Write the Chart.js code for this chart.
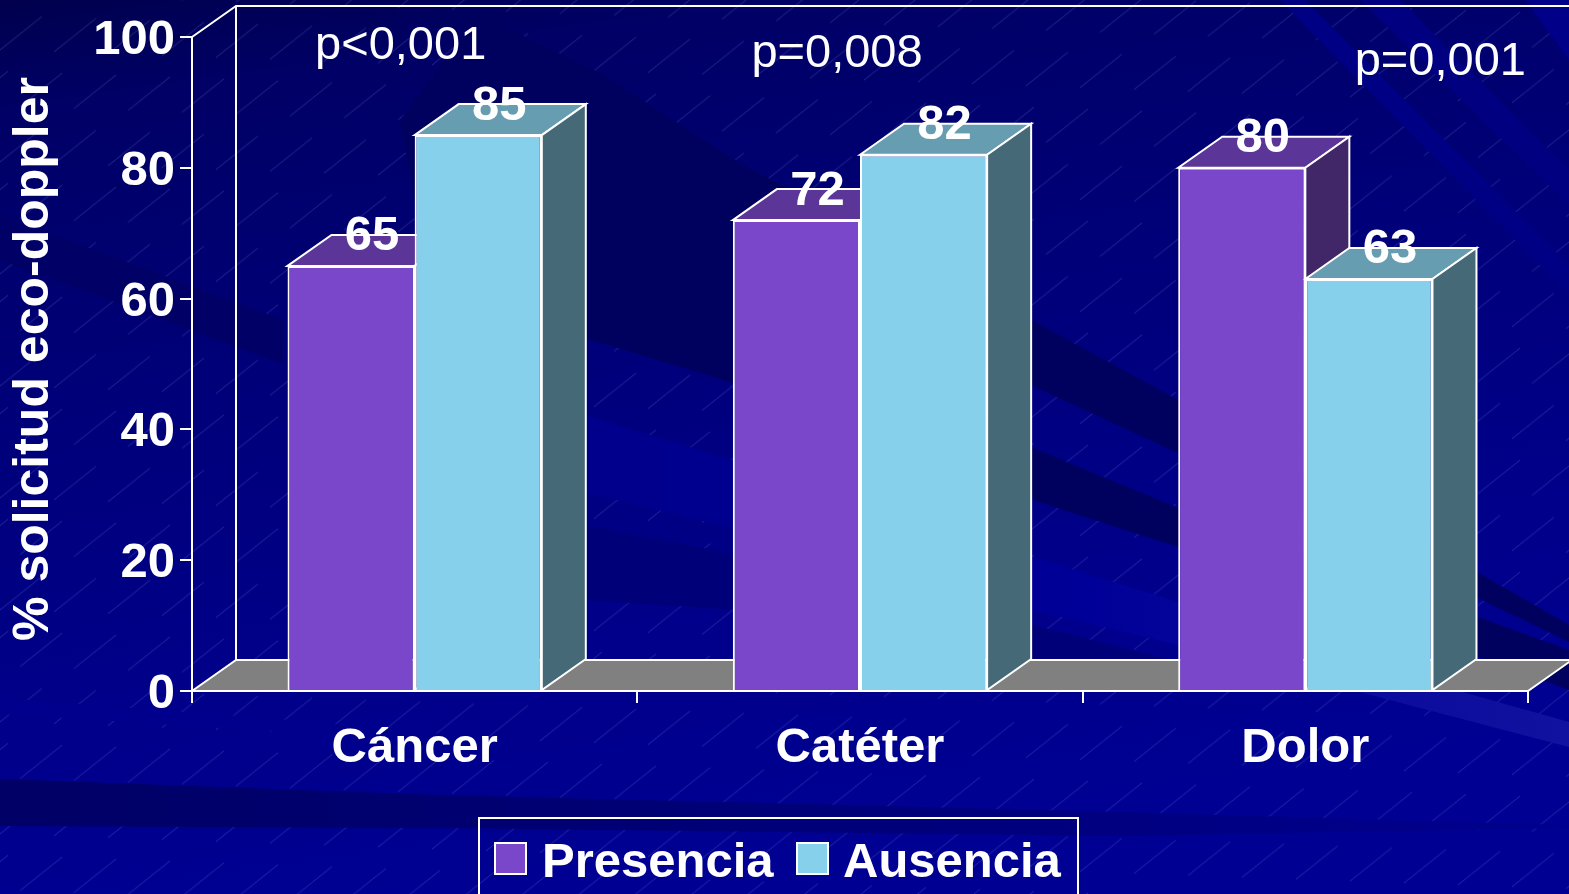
<!DOCTYPE html>
<html lang="es">
<head>
<meta charset="UTF-8" />
<title>Solicitud eco-doppler</title>
<script src="https://cdn.jsdelivr.net/npm/chart.js"></script>
<style>
  html, body { margin: 0; padding: 0; background: #000090; overflow: hidden; }
  .slide { position: relative; width: 1569px; height: 894px; overflow: hidden; }
  .slide svg, .slide canvas { position: absolute; left: 0; top: 0; }
  .leyenda {
    position: absolute; left: 478px; top: 817px; width: 597px; height: 100px;
    border: 2px solid #fff; box-sizing: content-box;
    font: bold 49px "Liberation Sans", Arial, sans-serif; color: #fff;
  }
  .leyenda span { position: absolute; top: 15px; line-height: 52px; }
  .leyenda i { position: absolute; top: 23px; width: 29px; height: 29px; border: 2px solid #fff; }
</style>
</head>
<body>
<div class="slide">
  <svg width="1569" height="894">
    <defs>
      <linearGradient id="fondo" x1="0" y1="0" x2="0.25" y2="1">
        <stop offset="0" stop-color="#00004e" />
        <stop offset="0.12" stop-color="#000066" />
        <stop offset="0.45" stop-color="#00007a" />
        <stop offset="0.75" stop-color="#00008a" />
        <stop offset="1" stop-color="#000092" />
      </linearGradient>
      <linearGradient id="claro" gradientUnits="userSpaceOnUse" x1="585" y1="0" x2="1569" y2="0">
        <stop offset="0" stop-color="#00008c" />
        <stop offset="0.5" stop-color="#000098" />
        <stop offset="1" stop-color="#1212a0" />
      </linearGradient>
      <linearGradient id="franja" gradientUnits="userSpaceOnUse" x1="0" y1="0" x2="1569" y2="0">
        <stop offset="0" stop-color="#000066" />
        <stop offset="0.6" stop-color="#00007c" />
        <stop offset="1" stop-color="#00008e" />
      </linearGradient>
      <pattern id="rayas" width="54" height="112" patternUnits="userSpaceOnUse" patternTransform="skewY(2)">
        <line x1="0" y1="50" x2="42" y2="15" stroke="#8490e6" stroke-width="0.9" stroke-opacity="0.3" />
        <line x1="20" y1="106" x2="62" y2="71" stroke="#8490e6" stroke-width="0.9" stroke-opacity="0.3" />
        <line x1="-34" y1="106" x2="8" y2="71" stroke="#8490e6" stroke-width="0.9" stroke-opacity="0.3" />
      </pattern>
    </defs>
    <rect width="1569" height="894" fill="url(#fondo)" />
    <rect width="1569" height="894" fill="url(#rayas)" />
    <!-- franjas, tapan las rayas -->
    <polygon points="480,15 600,73 740,163 1033,321 1178,400 1569,625 1569,642 1178,453 1033,386 850,318 1033,448 1178,508 1569,650 1569,690 1178,547 1033,500 740,385 585,338 420,230 400,120" fill="#00005e" />
    <polygon points="0,215 283,320 283,364 0,260" fill="#000066" />
    <polygon points="585,525 740,555 1033,625 1178,662 1178,680 1033,660 740,610 585,600" fill="#000078" />
    <polygon points="585,415 732,460 1033,557 1178,602 1466,693 1569,722 1569,747 1363,693 1178,645 1033,610 732,528 585,492" fill="url(#claro)" />
    <polygon points="1280,0 1305,0 1569,265 1569,295" fill="#000084" />
    <polygon points="1360,0 1400,0 1569,170 1569,205" fill="#000080" />
    <polygon points="1525,0 1569,0 1569,60" fill="#000088" />
    <polygon points="0,698 290,720 560,745 290,732 0,714" fill="#00008c" />
    <polygon points="0,779 440,795 1120,812 1569,825 1569,828 1120,836 440,828 0,826" fill="url(#franja)" />
  </svg>
  <canvas id="grafico" width="1569" height="894"></canvas>
  <div class="leyenda" id="leyenda"></div>
</div>

<script>
const categorias = ['Cáncer', 'Catéter', 'Dolor'];
const presencia = [65, 72, 80];
const ausencia = [85, 82, 63];
const nombresSeries = ['Presencia', 'Ausencia'];
const valoresP = ['p<0,001', 'p=0,008', 'p=0,001'];
const marcasY = [0, 20, 40, 60, 80, 100];
const tituloY = '% solicitud eco-doppler';

const colorFrente = ['#7a47cb', '#87d0ec'];
const colorTapa = ['#5c3599', '#669db1'];
const colorLado = ['#412768', '#456977'];

// fondo del cubo: desplazamiento de la profundidad
const profX = 44;
const profY = 31;
const fuente = '"Liberation Sans", Arial, sans-serif';

function cara(ctx, puntos, relleno) {
    ctx.beginPath();
    ctx.moveTo(puntos[0][0], puntos[0][1]);
    for (let i = 1; i < puntos.length; i++) ctx.lineTo(puntos[i][0], puntos[i][1]);
    ctx.closePath();
    ctx.fillStyle = relleno;
    ctx.fill();
    ctx.stroke();
}

const cubo3d = {
    id: 'cubo3d',
    beforeDatasetsDraw(chart) {
        const ctx = chart.ctx;
        const area = chart.chartArea;
        const base = chart.scales.y.getPixelForValue(0);
        const tope = chart.scales.y.getPixelForValue(100);
        ctx.save();
        ctx.strokeStyle = '#fff';
        ctx.lineWidth = 2;

        // paredes y suelo
        ctx.beginPath();
        ctx.moveTo(area.left, tope);
        ctx.lineTo(area.left + profX, tope - profY);
        ctx.lineTo(area.right + profX, tope - profY);
        ctx.moveTo(area.left + profX, tope - profY);
        ctx.lineTo(area.left + profX, base - profY);
        ctx.stroke();
        cara(ctx, [[area.left, base], [area.left + profX, base - profY],
            [area.right + profX, base - profY], [area.right, base]], '#808080');

        // tapa y lateral de cada barra, la frontal la pinta Chart.js
        chart.data.datasets.forEach(function (ds, d) {
            chart.getDatasetMeta(d).data.forEach(function (barra) {
                const izq = barra.x - barra.width / 2;
                const der = barra.x + barra.width / 2;
                cara(ctx, [[izq, barra.y], [izq + profX, barra.y - profY],
                    [der + profX, barra.y - profY], [der, barra.y]], colorTapa[d]);
                cara(ctx, [[der, barra.y], [der + profX, barra.y - profY],
                    [der + profX, barra.base - profY], [der, barra.base]], colorLado[d]);
            });
        });
        ctx.restore();
    },
    afterDatasetsDraw(chart) {
        const ctx = chart.ctx;
        ctx.save();
        ctx.fillStyle = '#fff';
        ctx.textAlign = 'center';
        ctx.textBaseline = 'middle';

        // valor encima de cada barra
        ctx.font = 'bold 49px ' + fuente;
        chart.data.datasets.forEach(function (ds, d) {
            chart.getDatasetMeta(d).data.forEach(function (barra, i) {
                ctx.fillText(ds.data[i], barra.x + 21, barra.y - 29);
            });
        });

        // p de cada grupo
        ctx.font = '47px ' + fuente;
        const dx = [-14, -23, 135];
        const py = [46, 54, 62];
        valoresP.forEach(function (txt, i) {
            ctx.fillText(txt, chart.scales.x.getPixelForValue(i) + dx[i], py[i]);
        });

        // titulo del eje y, girado
        ctx.font = 'bold 50px ' + fuente;
        ctx.translate(34, 359);
        ctx.rotate(-Math.PI / 2);
        ctx.fillText(tituloY, 0, 0);
        ctx.restore();
    }
};

new Chart(document.getElementById('grafico'), {
    type: 'bar',
    data: {
        labels: categorias,
        datasets: [
            { label: nombresSeries[0], data: presencia, backgroundColor: colorFrente[0], borderColor: '#fff', borderWidth: 2 },
            { label: nombresSeries[1], data: ausencia, backgroundColor: colorFrente[1], borderColor: '#fff', borderWidth: 2 }
        ]
    },
    options: {
        responsive: false,
        animation: false,
        devicePixelRatio: 1,
        layout: { padding: { top: 37, right: 41, bottom: 0, left: 0 } },
        datasets: { bar: { categoryPercentage: 0.571, barPercentage: 1 } },
        plugins: { legend: { display: false }, tooltip: { enabled: false } },
        scales: {
            x: {
                afterFit(scale) { scale.height = 203; },
                border: { color: '#fff', width: 2 },
                grid: { drawOnChartArea: false, color: '#fff', lineWidth: 2, tickLength: 12 },
                ticks: { color: '#fff', padding: 16, font: { family: fuente, size: 49, weight: 'bold' }, maxRotation: 0 }
            },
            y: {
                min: 0,
                max: 100,
                afterFit(scale) { scale.width = 192; },
                afterBuildTicks(scale) { scale.ticks = marcasY.map(v => ({ value: v })); },
                border: { color: '#fff', width: 2 },
                grid: { drawOnChartArea: false, color: '#fff', lineWidth: 2, tickLength: 12 },
                ticks: { color: '#fff', padding: 5, labelOffset: 3.5, font: { family: fuente, size: 49, weight: 'bold' } }
            }
        }
    },
    plugins: [cubo3d]
});

// leyenda en html, sale de los mismos nombres y colores
const leyenda = document.getElementById('leyenda');
const posCuadro = [14, 316];
const posTexto = [62, 363];
nombresSeries.forEach(function (nombre, i) {
    const cuadro = document.createElement('i');
    cuadro.style.left = posCuadro[i] + 'px';
    cuadro.style.background = colorFrente[i];
    leyenda.appendChild(cuadro);
    const texto = document.createElement('span');
    texto.style.left = posTexto[i] + 'px';
    texto.textContent = nombre;
    leyenda.appendChild(texto);
});
</script>
</body>
</html>
